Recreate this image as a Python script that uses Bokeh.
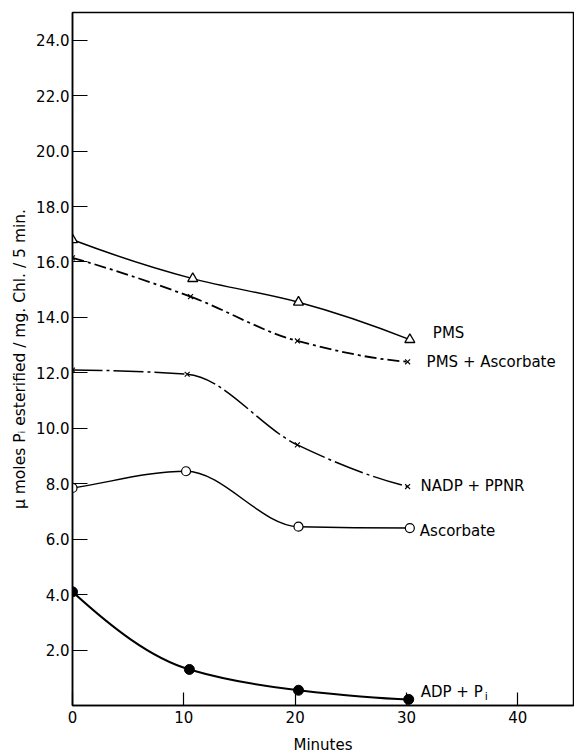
from bokeh.plotting import figure
from bokeh.models import FixedTicker, Range1d
from bokeh.core.properties import value
from bokeh.embed import file_html
from bokeh.resources import INLINE

# ---- data ----
series_names = ["PMS", "PMS + Ascorbate", "NADP + PPNR", "Ascorbate", "ADP + P"]
adp_subscript = "i"
pms_x = [0, 10.8, 20.3, 30.3]
pms_y = [16.8, 15.4, 14.55, 13.2]
pms_asc_x = [0, 10.6, 20.2, 30.1]
pms_asc_y = [16.15, 14.75, 13.15, 12.4]
nadp_x = [0, 10.3, 20.2, 30.1]
nadp_y = [12.1, 11.95, 9.4, 7.9]
asc_x = [0, 10.2, 20.3, 30.3]
asc_y = [7.85, 8.45, 6.45, 6.4]
adp_x = [0, 10.5, 20.3, 30.2]
adp_y = [4.1, 1.3, 0.55, 0.22]

x_ticks = [0, 10, 20, 30, 40]
x_tick_labels = ["0", "10", "20", "30", "40"]
y_ticks = [2, 4, 6, 8, 10, 12, 14, 16, 18, 20, 22, 24]
y_tick_labels = ["2.0", "4.0", "6.0", "8.0", "10.0", "12.0", "14.0", "16.0",
                 "18.0", "20.0", "22.0", "24.0"]

FONT = "DejaVu Sans"

p = figure(width=574, height=756, output_backend="svg", toolbar_location=None,
           x_range=Range1d(0, 45), y_range=Range1d(0, 25),
           min_border_left=72, min_border_top=12, min_border_right=1,
           min_border_bottom=49)
p.grid.visible = False
p.outline_line_color = "black"
p.outline_line_width = 1.5
p.background_fill_color = "white"
p.border_fill_color = "white"

for ax in (p.xaxis[0], p.yaxis[0]):
    ax.axis_line_width = 1.5
    ax.axis_line_color = "black"
    ax.major_tick_in = 13
    ax.major_tick_out = 0
    ax.major_tick_line_width = 1.2
    ax.minor_tick_line_color = None
    ax.major_label_text_font = FONT
    ax.major_label_text_font_size = "15px"
    ax.major_label_text_color = "black"
    ax.axis_label_text_font = FONT
    ax.axis_label_text_font_size = "15px"
    ax.axis_label_text_font_style = "normal"
    ax.axis_label_text_color = "black"

p.yaxis[0].major_tick_in = 15
p.yaxis[0].axis_label_text_font_size = "15.5px"
p.xaxis.ticker = FixedTicker(ticks=x_ticks)
p.xaxis.major_label_overrides = {t: l for t, l in zip(x_ticks, x_tick_labels)}
p.yaxis.ticker = FixedTicker(ticks=y_ticks)
p.yaxis.major_label_overrides = {t: l for t, l in zip(y_ticks, y_tick_labels)}
p.xaxis.axis_label = "Minutes"
p.yaxis.axis_label = "μ moles Pᵢ esterified / mg. Chl. / 5 min."
p.xaxis.major_label_standoff = 5
p.xaxis.axis_label_standoff = 10
p.yaxis.major_label_standoff = 3
p.yaxis.axis_label_standoff = 4


def smooth(xs, ys, **kw):
    """Monotone cubic curve through the points, drawn as Beziers."""
    n = len(xs)
    h = [xs[i + 1] - xs[i] for i in range(n - 1)]
    d = [(ys[i + 1] - ys[i]) / h[i] for i in range(n - 1)]
    m = [0.0] * n
    for i in range(1, n - 1):
        if d[i - 1] * d[i] > 0:
            w1 = 2 * h[i] + h[i - 1]
            w2 = h[i] + 2 * h[i - 1]
            m[i] = (w1 + w2) / (w1 / d[i - 1] + w2 / d[i])

    def end(h0, h1, d0, d1):
        if d0 * d1 < 0:
            return d0
        t = ((2 * h0 + h1) * d0 - h0 * d1) / (h0 + h1)
        if t * d0 <= 0:
            return 0.0
        return t

    m[0] = end(h[0], h[1], d[0], d[1])
    m[-1] = end(h[-1], h[-2], d[-1], d[-2])
    x0, y0, x1, y1, cx0, cy0, cx1, cy1 = [], [], [], [], [], [], [], []
    for i in range(n - 1):
        x0.append(xs[i]); y0.append(ys[i])
        x1.append(xs[i + 1]); y1.append(ys[i + 1])
        cx0.append(xs[i] + h[i] / 3.0)
        cy0.append(ys[i] + m[i] * h[i] / 3.0)
        cx1.append(xs[i + 1] - h[i] / 3.0)
        cy1.append(ys[i + 1] - m[i + 1] * h[i] / 3.0)
    p.bezier(x0=x0, y0=y0, x1=x1, y1=y1, cx0=cx0, cy0=cy0, cx1=cx1, cy1=cy1,
             line_color="black", **kw)


smooth(pms_x, pms_y, line_width=1.5)
smooth(pms_asc_x, pms_asc_y, line_width=1.8, line_dash="12 4 3 4")
smooth(nadp_x, nadp_y, line_width=1.5, line_dash="30 4 3 4")
smooth(asc_x, asc_y, line_width=1.5)
smooth(adp_x, adp_y, line_width=2)

p.scatter(pms_x, pms_y, marker="triangle", size=10, fill_color="white",
          line_color="black", line_width=1.3)
p.scatter(pms_asc_x, pms_asc_y, marker="x", size=7, line_color="black", line_width=1.1)
p.scatter(nadp_x, nadp_y, marker="x", size=7, line_color="black", line_width=1.1)
p.scatter(asc_x, asc_y, marker="circle", size=9, fill_color="white",
          line_color="black", line_width=1.2)
p.scatter(adp_x, adp_y, marker="circle", size=10, fill_color="black",
          line_color="black")

# series labels placed next to the last point of each series
ends_x = [pms_x[-1], pms_asc_x[-1], nadp_x[-1], asc_x[-1], adp_x[-1]]
ends_y = [pms_y[-1], pms_asc_y[-1], nadp_y[-1], asc_y[-1], adp_y[-1]]
x_offs = [23, 19, 13, 10, 12]
y_offs = [-7, 0, -1, 3, -7]
for ex, ey, name, xo, yo in zip(ends_x, ends_y, series_names, x_offs, y_offs):
    p.text(x=[ex], y=[ey], text=[name], x_offset=xo, y_offset=yo,
           text_font=value(FONT), text_font_size="15px", text_color="black",
           text_baseline="middle", text_align="left")
# subscript "i" of "ADP + Pi"
p.text(x=[adp_x[-1]], y=[adp_y[-1]], text=[adp_subscript], x_offset=76, y_offset=-3,
       text_font=value(FONT), text_font_size="11px", text_color="black",
       text_baseline="middle", text_align="left")

open("out.html", "w").write(file_html(p, INLINE))
